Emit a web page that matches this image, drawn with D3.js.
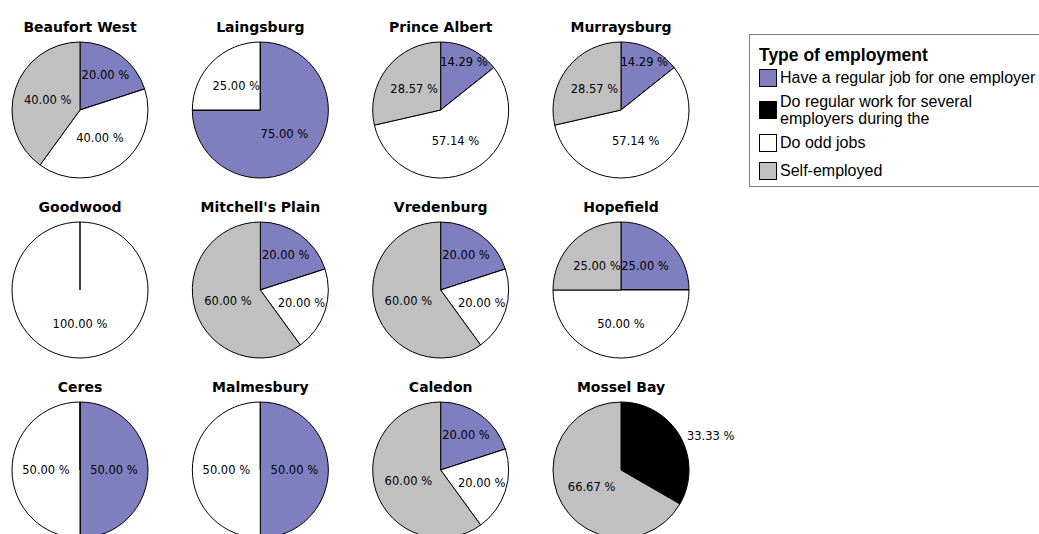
<!DOCTYPE html>
<html>
<head>
<meta charset="utf-8">
<script src="https://cdn.jsdelivr.net/npm/d3@7"></script>
<style>
  body { margin: 0; background: #fff; }
  svg { display: block; }
</style>
</head>
<body>
<svg id="chart"></svg>
<script>
// data
const categories = ["Have a regular job for one employer", "Do regular work for several employers during the", "Do odd jobs", "Self-employed"];
const legendLines = [["Have a regular job for one employer"], ["Do regular work for several", "employers during the"], ["Do odd jobs"], ["Self-employed"]];
const colors = ["#7f7fbf", "#000000", "#ffffff", "#c0c0c0"];
const towns = ["Beaufort West", "Laingsburg", "Prince Albert", "Murraysburg",
               "Goodwood", "Mitchell's Plain", "Vredenburg", "Hopefield",
               "Ceres", "Malmesbury", "Caledon", "Mossel Bay"];
const regularJob   = [20, 75, 14.29, 14.29, 0, 20, 20, 25, 50, 50, 20, 0];
const severalJobs  = [0, 0, 0, 0, 0, 0, 0, 0, 0, 0, 0, 33.33];
const oddJobs      = [40, 25, 57.14, 57.14, 100, 20, 20, 50, 50, 50, 20, 0];
const selfEmployed = [40, 0, 28.57, 28.57, 0, 60, 60, 25, 0, 0, 60, 66.67];

const W = 1039, H = 534;
const svg = d3.select("#chart").attr("width", W).attr("height", H);

const R = 68;
const xcol = d3.scalePoint().domain([0, 1, 2, 3]).range([80, 621]);
const yrow = d3.scalePoint().domain([0, 1, 2]).range([110, 470]);

const pie = d3.pie().sort(null).value(d => d.value);
const arc = d3.arc().innerRadius(0).outerRadius(R);

towns.forEach((town, i) => {
    const values = [regularJob[i], severalJobs[i], oddJobs[i], selfEmployed[i]];
    const data = values.map((v, k) => ({value: v, k: k}));
    const g = svg.append("g")
        .attr("transform", `translate(${xcol(i % 4)}, ${yrow(Math.floor(i / 4))})`);

    g.append("text")
        .attr("x", 0)
        .attr("y", -R - 10)
        .attr("text-anchor", "middle")
        .attr("font-family", "DejaVu Sans, sans-serif")
        .attr("font-weight", "bold")
        .attr("font-size", "14px")
        .text(town);

    const arcs = pie(data);

    // zero slices are kept: they draw the radial line seen in Goodwood
    g.selectAll("path")
        .data(arcs)
        .enter()
        .append("path")
        .attr("d", arc)
        .attr("fill", d => colors[d.data.k])
        .attr("stroke", "#000")
        .attr("stroke-width", 1);

    g.selectAll("text.lbl")
        .data(arcs.filter(d => d.data.value > 0))
        .enter()
        .append("text")
        .attr("class", "lbl")
        .attr("font-family", "DejaVu Sans, sans-serif")
        .attr("font-size", "11.5px")
        .attr("fill", "#000")
        .attr("dy", "0.35em")
        .each(function(d) {
            const mid = (d.startAngle + d.endAngle) / 2;
            const frac = (d.endAngle - d.startAngle) / (2 * Math.PI);
            const t = d3.select(this);
            if (d.data.k === 1) {
                // dark slice: label goes outside
                t.attr("x", Math.sin(mid) * R + 7)
                 .attr("y", -Math.cos(mid) * R)
                 .attr("text-anchor", "start");
            } else {
                const rr = R * (0.5 + Math.max(0, 0.25 - frac) * 2.7);
                t.attr("x", Math.sin(mid) * rr)
                 .attr("y", -Math.cos(mid) * rr)
                 .attr("text-anchor", "middle");
            }
        })
        .text(d => d.data.value.toFixed(2) + " %");
});

// legend
const legend = svg.append("g").attr("transform", "translate(749, 34)");
legend.append("rect")
    .attr("x", 0.5).attr("y", 0.5)
    .attr("width", 320).attr("height", 152)
    .attr("fill", "#fff")
    .attr("stroke", "#808080");

legend.append("text")
    .attr("x", 10).attr("y", 27)
    .attr("font-family", "Liberation Sans, Arial, sans-serif")
    .attr("font-weight", "bold")
    .attr("font-size", "17.5px")
    .text("Type of employment");

const rowY = [43, 67, 108, 136];   // centre of first text line
const lineH = 17;
legendLines.forEach((lines, k) => {
    const y0 = rowY[k];
    const mid = y0 + (lines.length - 1) * lineH / 2;
    legend.append("rect")
        .attr("x", 10.5).attr("y", Math.round(mid - 8.5) + 0.5)
        .attr("width", 17).attr("height", 17)
        .attr("fill", colors[k])
        .attr("stroke", "#000");
    lines.forEach((ln, j) => {
        legend.append("text")
            .attr("x", 31)
            .attr("y", y0 + j * lineH)
            .attr("dy", "0.35em")
            .attr("font-family", "Liberation Sans, Arial, sans-serif")
            .attr("font-size", "16px")
            .text(ln);
    });
});
</script>
</body>
</html>
